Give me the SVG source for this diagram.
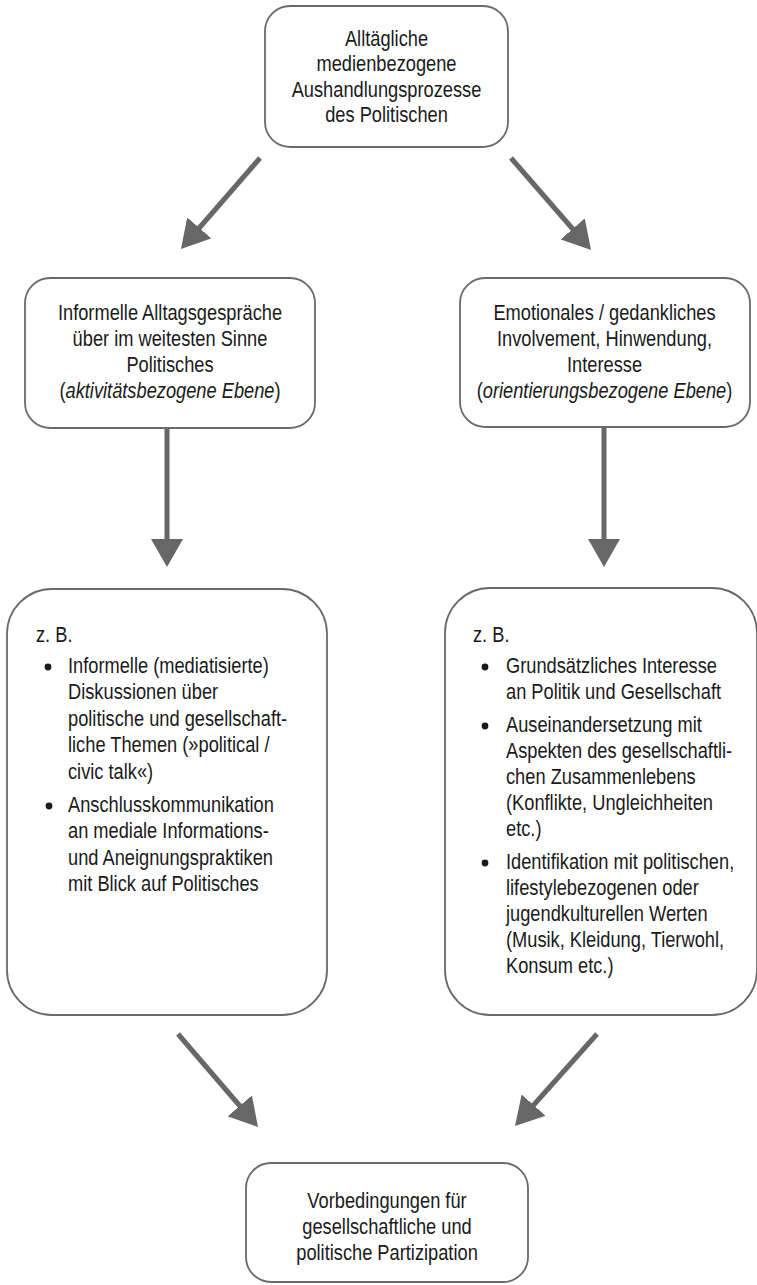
<svg xmlns="http://www.w3.org/2000/svg" width="757" height="1285" viewBox="0 0 757 1285">
<style>
.box{fill:#ffffff;stroke:#6a6a6a;stroke-width:1.8}
.t{font-family:"Liberation Sans",Arial,sans-serif;font-size:22px;fill:#1a1a1a}
.c{text-anchor:middle}
.i{font-style:italic}
.conn{stroke:#676767;stroke-width:5;fill:none;marker-end:url(#ah)}
.dot{fill:#1a1a1a}
</style>
<defs>
<marker id="ah" markerUnits="userSpaceOnUse" viewBox="0 0 28 32" refX="20" refY="16" markerWidth="28" markerHeight="32" orient="auto">
<path d="M0,0 L28,16 L0,32 z" fill="#676767"/>
</marker>
</defs>
<rect width="757" height="1285" fill="#ffffff"/>

<g id="connectors">
<line class="conn" x1="260" y1="158" x2="186.2" y2="243"/>
<line class="conn" x1="511" y1="158" x2="585.8" y2="244"/>
<line class="conn" x1="167" y1="415" x2="167" y2="559"/>
<line class="conn" x1="604" y1="415" x2="604" y2="559"/>
<line class="conn" x1="178" y1="1034" x2="252.8" y2="1121"/>
<line class="conn" x1="597" y1="1034" x2="520.3" y2="1120"/>
</g>

<g id="top">
<rect class="box" x="265" y="6" width="243" height="141" rx="25"/>
<g transform="translate(386.5 0) scale(0.83 1)">
<text class="t c" x="0" y="46">Alltägliche</text>
<text class="t c" x="0" y="71.5">medienbezogene</text>
<text class="t c" x="0" y="97">Aushandlungsprozesse</text>
<text class="t c" x="0" y="122">des Politischen</text>
</g>
</g>

<g id="left-mid">
<rect class="box" x="25" y="278" width="290" height="150" rx="25"/>
<g transform="translate(170 0) scale(0.83 1)">
<text class="t c" x="0" y="320">Informelle Alltagsgespräche</text>
<text class="t c" x="0" y="346.5">über im weitesten Sinne</text>
<text class="t c" x="0" y="372.5">Politisches</text>
<text class="t c" x="0" y="398.5">(<tspan class="i">aktivitätsbezogene Ebene</tspan>)</text>
</g>
</g>

<g id="right-mid">
<rect class="box" x="460" y="278" width="290" height="149" rx="25"/>
<g transform="translate(604.5 0) scale(0.83 1)">
<text class="t c" x="0" y="320">Emotionales / gedankliches</text>
<text class="t c" x="0" y="346.5">Involvement, Hinwendung,</text>
<text class="t c" x="0" y="372.5">Interesse</text>
<text class="t c" x="0" y="398.5">(<tspan class="i">orientierungsbezogene Ebene</tspan>)</text>
</g>
</g>

<g id="left-low">
<rect class="box" x="7" y="589" width="320" height="426" rx="45"/>
<g transform="translate(36 0) scale(0.83 1)">
<text class="t" x="0" y="642">z. B.</text>
</g>
<circle class="dot" cx="48" cy="667" r="3.4"/>
<circle class="dot" cx="49" cy="806" r="3.4"/>
<g transform="translate(68 0) scale(0.83 1)">
<text class="t" x="0" y="673">Informelle (mediatisierte)</text>
<text class="t" x="0" y="699.5">Diskussionen über</text>
<text class="t" x="0" y="726">politische und gesellschaft-</text>
<text class="t" x="0" y="752.5">liche Themen (»political /</text>
<text class="t" x="0" y="779">civic talk«)</text>
<text class="t" x="0" y="812">Anschlusskommunikation</text>
<text class="t" x="0" y="838.5">an mediale Informations-</text>
<text class="t" x="0" y="865">und Aneignungspraktiken</text>
<text class="t" x="0" y="891.5">mit Blick auf Politisches</text>
</g>
</g>

<g id="right-low">
<rect class="box" x="445" y="588" width="312" height="427" rx="45"/>
<g transform="translate(473 0) scale(0.83 1)">
<text class="t" x="0" y="642">z. B.</text>
</g>
<circle class="dot" cx="485" cy="667" r="3.4"/>
<circle class="dot" cx="485" cy="726" r="3.4"/>
<circle class="dot" cx="485" cy="863" r="3.4"/>
<g transform="translate(506 0) scale(0.83 1)">
<text class="t" x="0" y="673">Grundsätzliches Interesse</text>
<text class="t" x="0" y="699.5">an Politik und Gesellschaft</text>
<text class="t" x="0" y="732">Auseinandersetzung mit</text>
<text class="t" x="0" y="758">Aspekten des gesellschaftli-</text>
<text class="t" x="0" y="784">chen Zusammenlebens</text>
<text class="t" x="0" y="810">(Konflikte, Ungleichheiten</text>
<text class="t" x="0" y="836">etc.)</text>
<text class="t" x="0" y="869">Identifikation mit politischen,</text>
<text class="t" x="0" y="895">lifestylebezogenen oder</text>
<text class="t" x="0" y="921">jugendkulturellen Werten</text>
<text class="t" x="0" y="947">(Musik, Kleidung, Tierwohl,</text>
<text class="t" x="0" y="973">Konsum etc.)</text>
</g>
</g>

<g id="bottom">
<rect class="box" x="246" y="1163" width="282" height="119" rx="25"/>
<g transform="translate(387 0) scale(0.83 1)">
<text class="t c" x="0" y="1208">Vorbedingungen für</text>
<text class="t c" x="0" y="1234">gesellschaftliche und</text>
<text class="t c" x="0" y="1260">politische Partizipation</text>
</g>
</g>
</svg>
